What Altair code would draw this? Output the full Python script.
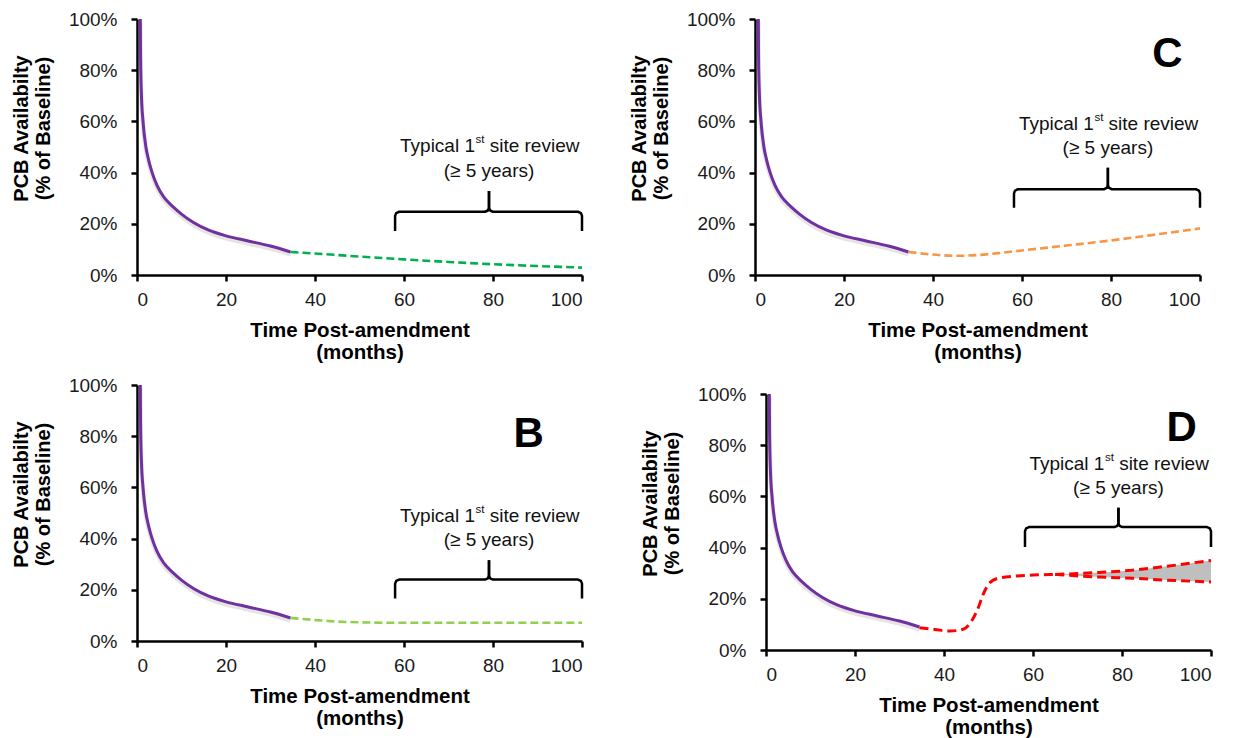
import altair as alt
import pandas as pd

FONT = "Liberation Sans"

# ---- data (months post-amendment, % of baseline) ----
purple_x = [0.75, 0.8, 1.0, 1.35, 2.0, 2.6, 3.4, 4.5, 6, 8, 10, 12.7, 16, 20, 25, 30, 34.5]
purple_y = [100, 85, 70, 60, 50, 45, 40, 35, 30.5, 26.8, 23.8, 20.5, 17.6, 15.3, 13.3, 11.3, 9]

a_x = [34.5, 40, 50, 60, 70, 80, 90, 100]
a_y = [9, 8.4, 7.2, 6.1, 5.1, 4.2, 3.5, 2.9]

b_x = [34.5, 40, 45, 50, 60, 80, 100]
b_y = [9, 8.2, 7.6, 7.3, 7.1, 7.1, 7.1]

c_x = [34.5, 38, 42, 46, 50, 55, 60, 70, 80, 90, 100]
c_y = [9, 8.3, 7.7, 7.5, 7.8, 8.6, 9.6, 11.5, 13.5, 15.8, 18.2]

d_x = [34.5, 38, 41.3, 44.3, 46.2, 47.7, 48.8, 50.3, 52.6, 56.3, 60, 65]
d_y = [8.7, 8.0, 7.4, 8.1, 11.3, 16.5, 21.7, 26.3, 28.2, 28.9, 29.3, 29.5]
fork_x = [65, 75, 82.5, 90, 100]
fork_upper = [29.5, 30.3, 31.2, 32.7, 35]
fork_lower = [29.5, 28.5, 28.0, 27.3, 26.6]

panels = ["A", "B", "C", "D"]
proj_colors = ["#00b050", "#92d050", "#f79646", "#ff0000"]
letters = ["", "B", "C", "D"]
letter_x = [0, 88, 92.7, 93.4]
letter_y = [0, 80.8, 86.2, 86.8]
# brace: left, right, centre (months); bottom, horizontal, peak (%)
brace_left = [58, 58, 58.2, 58.2]
brace_right = [100, 100, 100, 100]
brace_center = [79.1, 79.1, 79.3, 79.2]
brace_bottom = [17.2, 16.6, 26.3, 40.2]
brace_mid = [24.7, 24.0, 33.5, 48.0]
brace_peak = [32.8, 31.5, 41.9, 55.6]
text_y1 = [50.4, 49.0, 58.9, 72.8]
text_y2 = [40.6, 39.6, 49.7, 63.4]

proj_series = {"A": (a_x, a_y), "B": (b_x, b_y), "C": (c_x, c_y), "D": (d_x, d_y)}

W, H = 445, 256

xscale = alt.Scale(domain=[0, 100], nice=False)
yscale = alt.Scale(domain=[0, 100], nice=False)

axis_common = dict(grid=False, domainColor="black", domainWidth=2.5, tickColor="black",
                   tickWidth=2.5, tickSize=6, labelFont=FONT, titleFont=FONT,
                   labelColor="#1a1a1a", titleColor="black", labelFontSize=19)
xaxis = alt.Axis(values=[0, 20, 40, 60, 80, 100], title=["Time Post-amendment", "(months)"],
                 titleFontSize=20.5, titleFontWeight="bold", titleLineHeight=22,
                 titlePadding=11, labelPadding=9, **axis_common)
yaxis = alt.Axis(values=[0, 20, 40, 60, 80, 100], labelExpr="datum.value + '%'",
                 title=["PCB Availabilty", "(% of Baseline)"], titleFontSize=20,
                 titleFontWeight="bold", titleLineHeight=22, titlePadding=15, titleY=109,
                 labelPadding=14, **axis_common)


def brace_df(i):
    L, R, C = brace_left[i], brace_right[i], brace_center[i]
    yb, yh, yp = brace_bottom[i], brace_mid[i], brace_peak[i]
    left = [(L, yb), (L, yh - 1.6), (L + 0.25, yh - 0.5), (L + 0.9, yh), (C - 0.9, yh),
            (C - 0.25, yh + 0.5), (C, yh + 1.6), (C, yp)]
    right = [(R, yb), (R, yh - 1.6), (R - 0.25, yh - 0.5), (R - 0.9, yh), (C + 0.9, yh),
             (C + 0.25, yh + 0.5), (C, yh + 1.6), (C, yp)]
    rows = []
    for side, pts in (("l", left), ("r", right)):
        for k, (x, y) in enumerate(pts):
            rows.append({"x": x, "y": y, "side": side, "k": k})
    return pd.DataFrame(rows)


def panel(i):
    name = panels[i]
    X = alt.X("x:Q", scale=xscale, axis=xaxis)
    Y = alt.Y("y:Q", scale=yscale, axis=yaxis)
    pdf = pd.DataFrame({"x": purple_x, "y": purple_y})
    px, py = proj_series[name]
    prdf = pd.DataFrame({"x": px, "y": py})

    layers = []
    if name == "D":
        fdf = pd.DataFrame({"x": fork_x, "u": fork_upper, "l": fork_lower})
        layers.append(alt.Chart(fdf).mark_area(color="#bfbfbf", interpolate="monotone").encode(
            x=X, y=alt.Y("u:Q", scale=yscale, axis=yaxis), y2="l:Q"))
    layers.append(alt.Chart(pdf).mark_line(color="#888888", opacity=0.22, strokeWidth=4.5,
                                           yOffset=2.5, interpolate="monotone").encode(x=X, y=Y))
    layers.append(alt.Chart(pdf).mark_line(color="#7030a0", strokeWidth=3,
                                           interpolate="monotone").encode(x=X, y=Y))
    dash = dict(color=proj_colors[i], strokeWidth=2.6 if name != "D" else 3,
                strokeDash=[8, 4] if name != "D" else [9, 5], interpolate="monotone")
    layers.append(alt.Chart(prdf).mark_line(**dash).encode(x=X, y=Y))
    if name == "D":
        udf = pd.DataFrame({"x": fork_x, "y": fork_upper})
        ldf = pd.DataFrame({"x": fork_x, "y": fork_lower})
        layers.append(alt.Chart(udf).mark_line(**dash).encode(x=X, y=Y))
        layers.append(alt.Chart(ldf).mark_line(**dash).encode(x=X, y=Y))

    layers.append(alt.Chart(brace_df(i)).mark_line(color="black", strokeWidth=2.5,
                                                    strokeJoin="round").encode(
        x=X, y=Y, detail="side:N", order="k:Q"))

    c = brace_center[i]
    tdf1 = pd.DataFrame({"x": [c], "y": [text_y1[i]]})
    tdf2 = pd.DataFrame({"x": [c], "y": [text_y2[i]]})
    tstyle = dict(font=FONT, fontSize=19, color="#111111", baseline="middle")
    layers.append(alt.Chart(tdf1).mark_text(text="Typical 1", align="right", dx=-14, **tstyle)
                  .encode(x=X, y=Y))
    layers.append(alt.Chart(tdf1).mark_text(text="st", align="left", dx=-13.5, dy=-6,
                                            font=FONT, fontSize=11.5, color="#111111",
                                            baseline="middle").encode(x=X, y=Y))
    layers.append(alt.Chart(tdf1).mark_text(text="site review", align="left", dx=0.7, **tstyle)
                  .encode(x=X, y=Y))
    layers.append(alt.Chart(tdf2).mark_text(text="(\u2265 5 years)", align="center", **tstyle)
                  .encode(x=X, y=Y))

    if letters[i]:
        ldf = pd.DataFrame({"x": [letter_x[i]], "y": [letter_y[i]], "t": [letters[i]]})
        layers.append(alt.Chart(ldf).mark_text(font=FONT, fontSize=42, fontWeight="bold",
                                               color="black", baseline="middle",
                                               align="center").encode(x=X, y=Y, text="t:N"))
    return alt.layer(*layers).properties(width=W, height=H)


A, B, C, D = [panel(i) for i in range(4)]

spacer = alt.Chart(pd.DataFrame({"x": [0]})).mark_point(opacity=0).encode(
    x=alt.value(0), y=alt.value(0)).properties(width=W, height=9)

row1 = alt.hconcat(A, C, spacing=173, bounds="flush")
row2 = alt.hconcat(B, alt.vconcat(spacer, D, spacing=0, bounds="flush"), spacing=184,
                   bounds="flush")
chart = alt.vconcat(row1, row2, spacing=366, bounds="flush",
                    padding={"left": 2, "top": 1, "right": 5, "bottom": 5}
                    ).configure_view(stroke="transparent")

chart.save("out.html", embed_options={"renderer": "svg", "actions": False})
